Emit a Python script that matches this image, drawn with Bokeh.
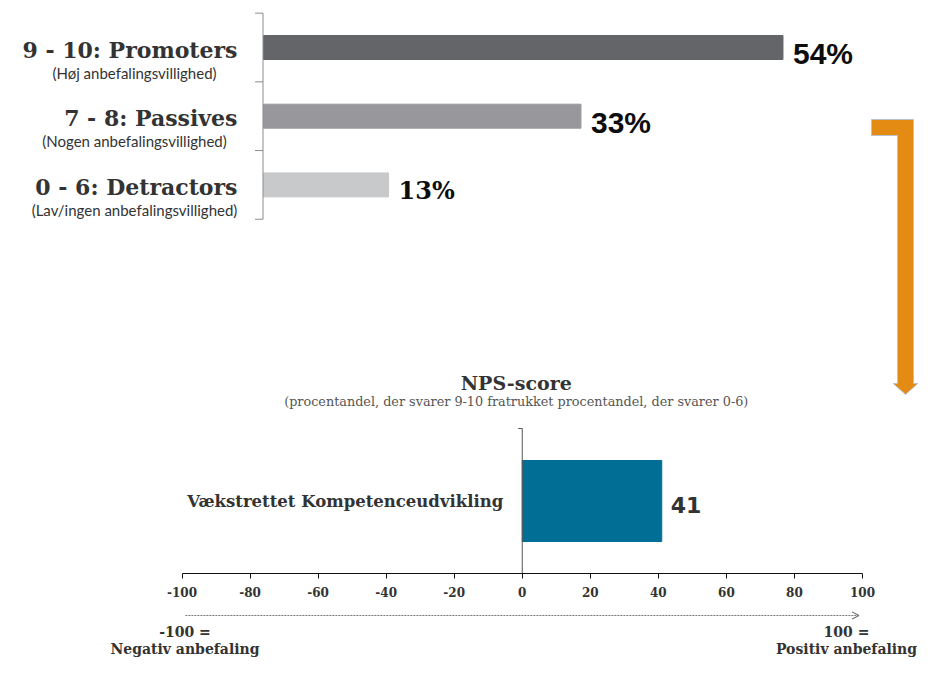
from bokeh.plotting import figure
from bokeh.models import (ColumnDataSource, Range1d, LinearAxis, FixedTicker,
                          Arrow, OpenHead, Label, CDSView, IndexFilter)
from bokeh.core.properties import value
from bokeh.embed import file_html
from bokeh.resources import INLINE

# ---------------- data ----------------
groups = ["9 - 10: Promoters", "7 - 8: Passives", "0 - 6: Detractors"]
group_notes = ["(Høj anbefalingsvillighed)", "(Nogen anbefalingsvillighed)",
               "(Lav/ingen anbefalingsvillighed)"]
group_shares = [54, 33, 13]
nps_units = ["Vækstrettet Kompetenceudvikling"]
nps_scores = [41]
nps_ticks = [-100, -80, -60, -40, -20, 0, 20, 40, 60, 80, 100]
nps_title = "NPS-score"
nps_subtitle = "(procentandel, der svarer 9-10 fratrukket procentandel, der svarer 0-6)"
end_labels_left = ["-100 =", "Negativ anbefaling"]
end_labels_right = ["100 =", "Positiv anbefaling"]

# ---------------- styles ----------------
group_colors = ["#646569", "#98989c", "#c8c9cb"]
share_fonts = ["Liberation Sans", "Liberation Sans", "DejaVu Serif"]
share_sizes = ["30px", "30px", "24px"]
NPS_COLOR = "#016f95"
ORANGE = "#e48b13"
DARK = "#333333"
SLAB = "DejaVu Serif"

# ---------------- layout (picture pixel coordinates) ----------------
W, H = 923, 662
PCT_X0, PCT_SCALE = 263, 9.62          # where 0 % sits, px per %
NPS_XL, NPS_XR = 181.5, 862            # where -100 and 100 sit
nps_scale = (NPS_XR - NPS_XL) / 200.0
ROW0, ROW_STEP, BAR_H = 47, 68.7, 24
NPS_AX_TOP, NPS_AX_Y = 428, 573
NPS_BAR_H = 81

p = figure(width=W, height=H, output_backend="svg", toolbar_location=None,
           x_axis_type=None, y_axis_type=None,
           x_range=Range1d(0, W), y_range=Range1d(H, 0),
           min_border=0, outline_line_color=None)
p.grid.visible = False
p.background_fill_color = "white"
p.border_fill_color = "white"

p.extra_x_ranges = {
    "pct": Range1d(-PCT_X0 / PCT_SCALE, (W - PCT_X0) / PCT_SCALE),
    "nps": Range1d(-100 - NPS_XL / nps_scale, 100 + (W - NPS_XR) / nps_scale),
}

# ---------------- top: distribution ----------------
row_y = [ROW0 + i * ROW_STEP for i in range(len(groups))]
src = ColumnDataSource(dict(
    y=row_y,
    ylab=[y + 2 for y in row_y],
    ynote=[y + 25 for y in row_y],
    ypct=[y + 6 for y in row_y],
    group=groups, note=group_notes, share=group_shares,
    share_txt=[f"{v}%" for v in group_shares],
    color=group_colors,
))
p.hbar(y="y", left=0, right="share", height=BAR_H, color="color",
       x_range_name="pct", source=src)
for i in range(len(groups)):
    p.text(x="share", y="ypct", text="share_txt", x_range_name="pct", x_offset=10,
           text_align="left", text_baseline="middle", text_font=value(share_fonts[i]),
           text_font_size=share_sizes[i], text_font_style="bold",
           text_color="#0d0d0d", source=src, view=CDSView(filter=IndexFilter([i])))
p.text(x=0, y="ylab", text="group", x_range_name="pct", x_offset=-(PCT_X0 - 237),
       text_align="right", text_baseline="middle", text_font=value(SLAB),
       text_font_style="bold", text_font_size="22px", text_color=DARK, source=src)
p.text(x=0, y="ynote", text="note", x_range_name="pct", x_offset=-(PCT_X0 - 134),
       text_align="center", text_baseline="middle", text_font=value("Lato"),
       text_font_size="15px", text_color=DARK, source=src)

# bracket (category separators)
bounds_top = [ROW0 - ROW_STEP / 2 + i * ROW_STEP for i in range(len(groups) + 1)]
bx = PCT_X0 - 0.5
p.segment(x0=[bx], y0=[bounds_top[0]], x1=[bx], y1=[bounds_top[-1]],
          line_color="#8c8c8c", line_width=1)
p.segment(x0=[bx - 8] * len(bounds_top), y0=bounds_top, x1=[bx] * len(bounds_top),
          y1=bounds_top, line_color="#8c8c8c", line_width=1)

# ---------------- orange connector arrow ----------------
AX_L, AX_R, SH_L = 871, 913, 897
A_TOP, A_ARM, A_NECK, A_TIP, HEAD = 119, 135, 383, 394, 12.3
shaft_c = (SH_L + AX_R) / 2
p.patch(x=[AX_L, AX_R, AX_R, shaft_c + HEAD, shaft_c, shaft_c - HEAD, SH_L, SH_L, AX_L],
        y=[A_TOP, A_TOP, A_NECK, A_NECK, A_TIP, A_NECK, A_NECK, A_ARM, A_ARM],
        fill_color=ORANGE, line_color="#b8c3cd", line_width=1)

# ---------------- bottom: NPS ----------------
nps_mid = (NPS_AX_TOP + NPS_AX_Y) / 2
nps_src = ColumnDataSource(dict(
    y=[nps_mid], ytxt=[nps_mid + 4],
    unit=nps_units, score=nps_scores, score_txt=[str(v) for v in nps_scores]))
p.hbar(y="y", left=0, right="score", height=NPS_BAR_H, color=NPS_COLOR,
       x_range_name="nps", source=nps_src)
p.text(x="score", y="ytxt", text="score_txt", x_range_name="nps", x_offset=9,
       text_align="left", text_baseline="middle", text_font=value("DejaVu Sans"),
       text_font_style="bold", text_font_size="22px", text_color=DARK, source=nps_src)
p.text(x=0, y="y", text="unit", x_range_name="nps", x_offset=-19,
       text_align="right", text_baseline="middle", text_font=value(SLAB),
       text_font_style="bold", text_font_size="16.5px", text_color=DARK, source=nps_src)

zero_px = NPS_XL + 100 * nps_scale
p.segment(x0=[zero_px], y0=[NPS_AX_TOP], x1=[zero_px], y1=[NPS_AX_Y],
          line_color="#555555", line_width=1)
p.segment(x0=[zero_px - 4], y0=[NPS_AX_TOP], x1=[zero_px], y1=[NPS_AX_TOP],
          line_color="#555555", line_width=1)

hax = LinearAxis(x_range_name="nps", fixed_location=NPS_AX_Y, bounds=(-100, 100),
                 ticker=FixedTicker(ticks=nps_ticks),
                 major_label_overrides={t: str(t) for t in nps_ticks},
                 major_tick_out=5, major_tick_in=0, minor_tick_out=0, minor_tick_in=0,
                 axis_line_color="#111111", major_tick_line_color="#111111",
                 major_label_text_font=SLAB, major_label_text_font_style="bold",
                 major_label_text_font_size="12px", major_label_text_color=DARK,
                 major_label_standoff=8)
p.add_layout(hax, "below")

p.add_layout(Label(x=zero_px - 6, y=382, text=nps_title, text_align="center",
                   text_baseline="middle", text_font=SLAB, text_font_style="bold",
                   text_font_size="19px", text_color=DARK))
p.add_layout(Label(x=zero_px - 6, y=401, text=nps_subtitle, text_align="center",
                   text_baseline="middle", text_font=SLAB, text_font_size="12.8px",
                   text_color="#555555"))

ARROW_Y = 615
p.add_layout(Arrow(x_range_name="nps", x_start=-99, y_start=ARROW_Y, x_end=99, y_end=ARROW_Y,
                   line_color="#777777", line_width=1, line_dash="2 1",
                   end=OpenHead(size=7, line_color="#555555", line_width=1)))

for xv, lines, dx in ((-100, end_labels_left, 3), (100, end_labels_right, -16)):
    for i, t in enumerate(lines):
        p.add_layout(Label(x=xv, y=ARROW_Y + 16 + i * 17, x_range_name="nps", x_offset=dx,
                           text=t, text_align="center", text_baseline="middle",
                           text_font=SLAB, text_font_style="bold",
                           text_font_size="14px", text_color=DARK))

open("out.html", "w").write(file_html(p, INLINE))
